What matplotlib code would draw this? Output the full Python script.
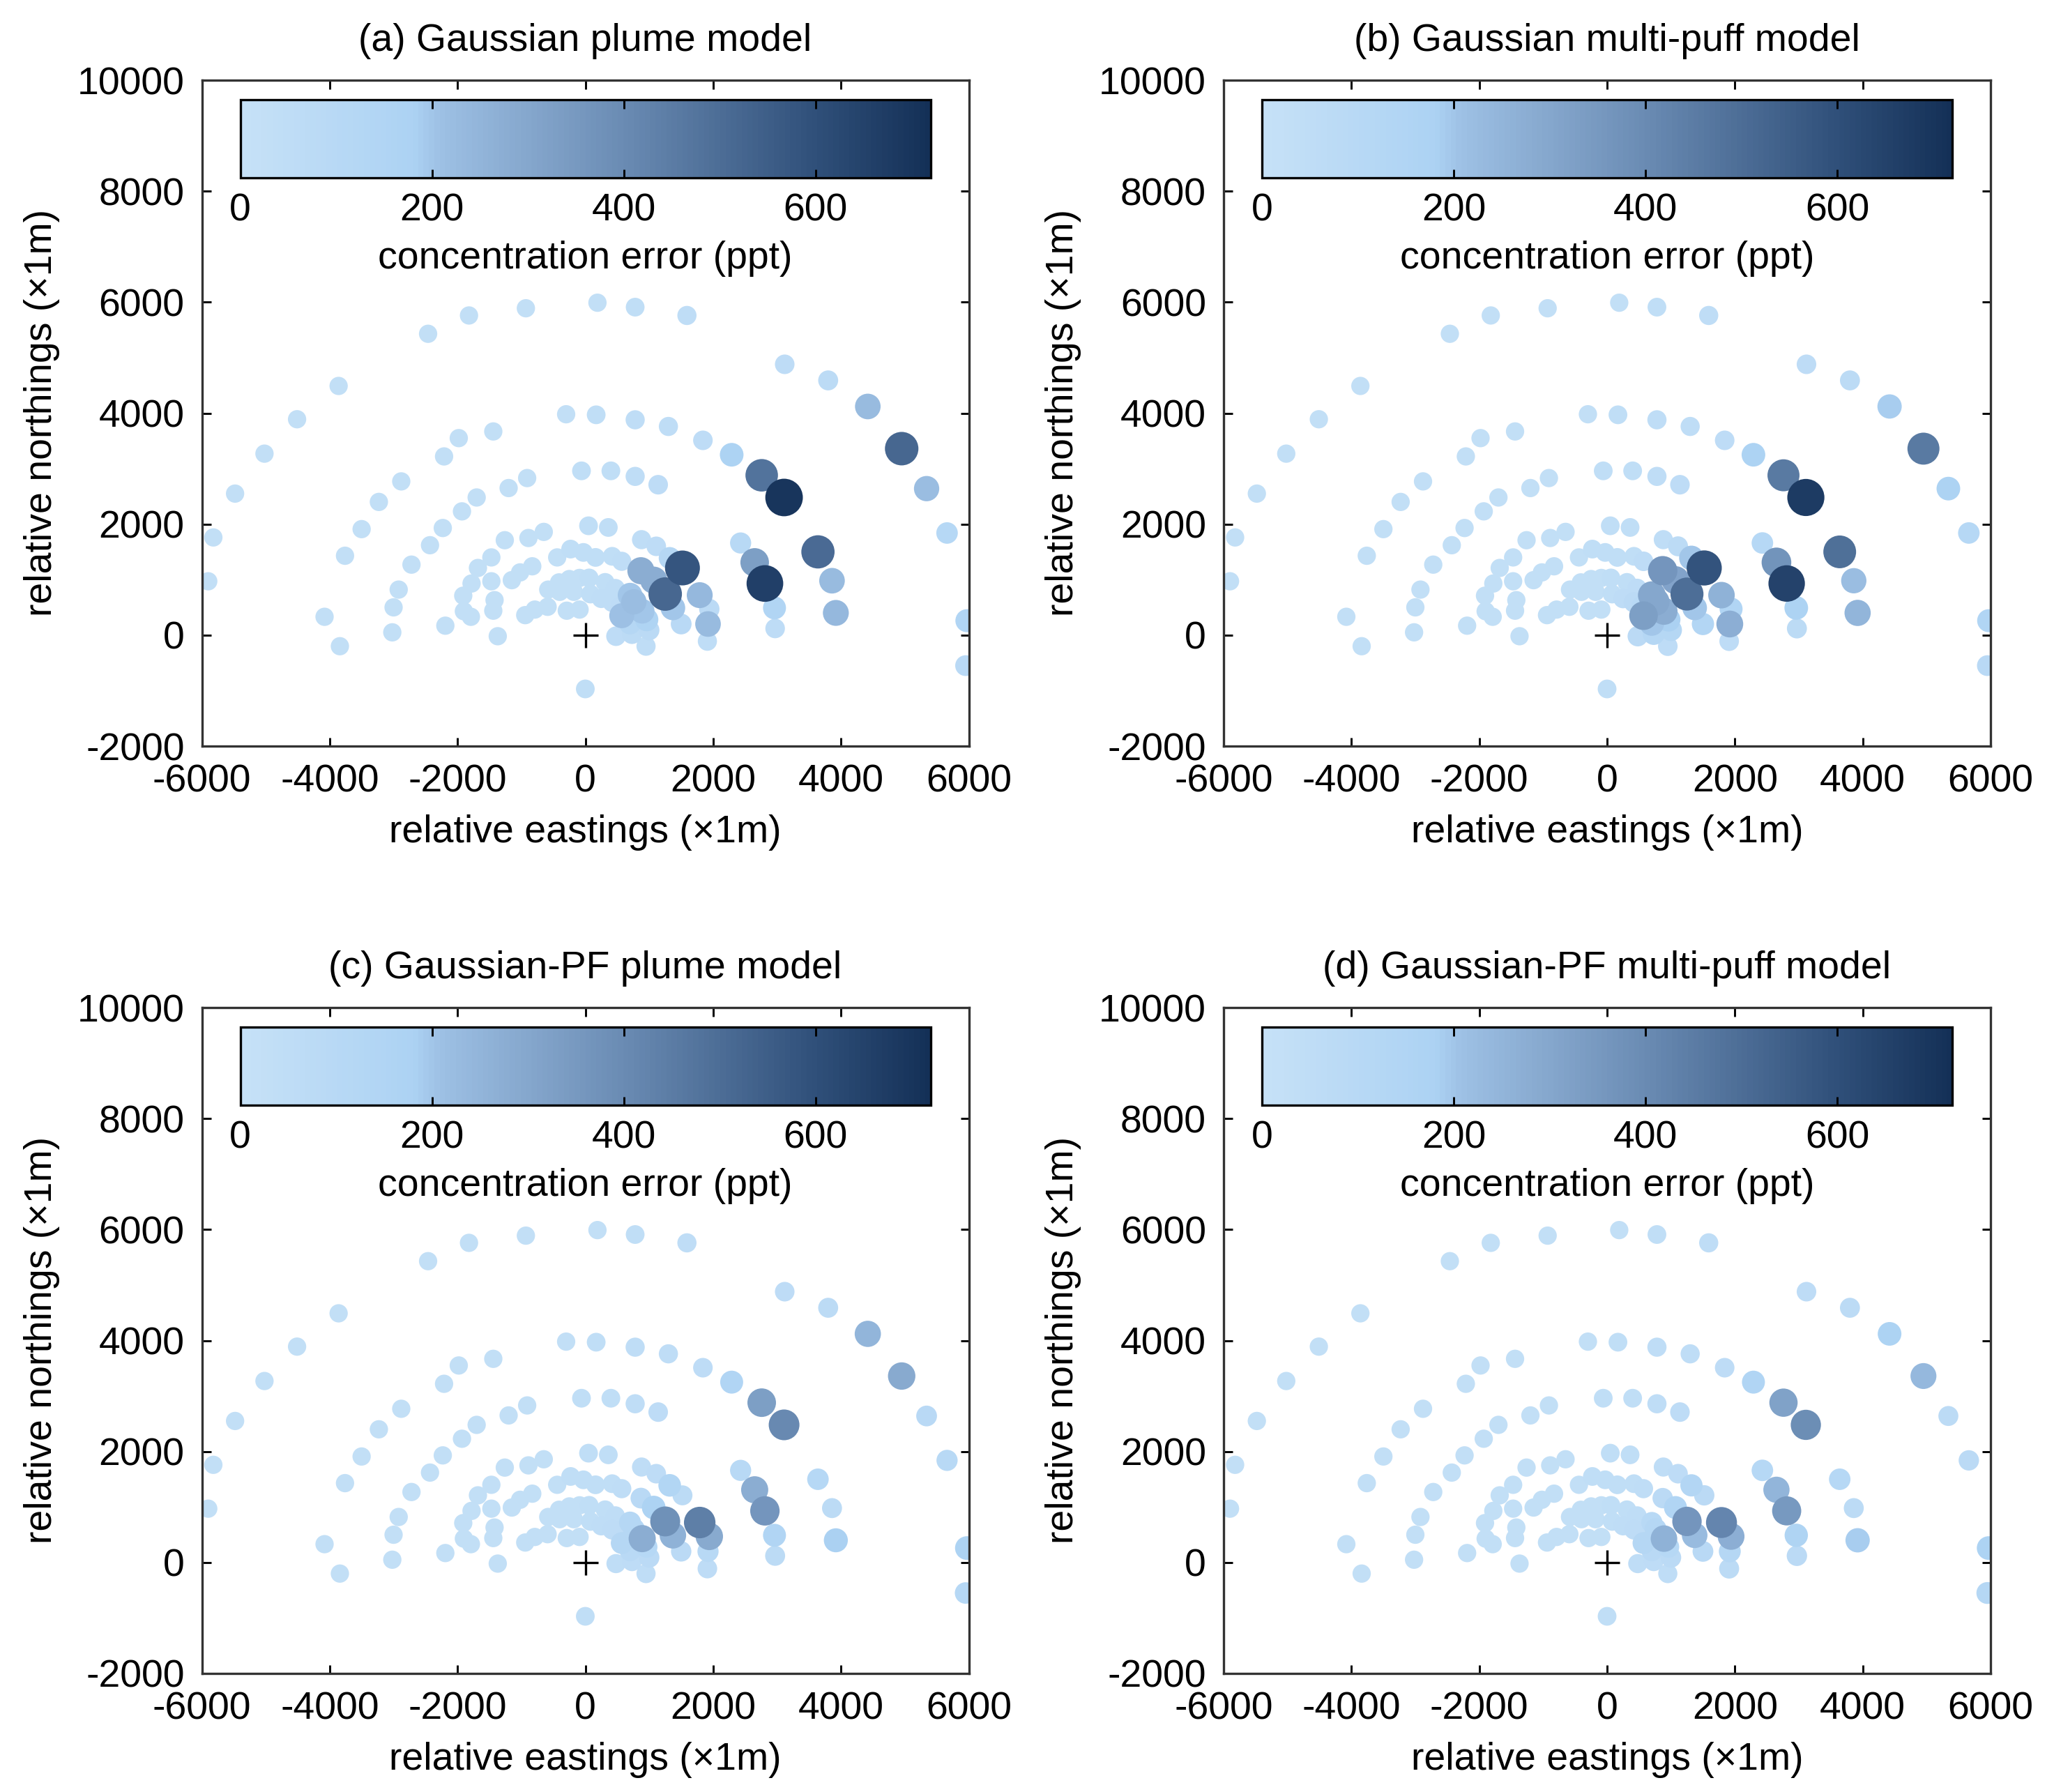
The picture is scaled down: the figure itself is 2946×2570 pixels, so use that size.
import numpy as np
import matplotlib.pyplot as plt
from matplotlib.colors import LinearSegmentedColormap

plt.rcParams['font.family'] = ['Liberation Sans', 'DejaVu Sans']
plt.rcParams['axes.unicode_minus'] = False

### receptor positions (m), ring by ring ###

# ring ~6000 m
x6 = [-5900, -5820, -5480, -5020, -4510, -3860, -2460, -1820, -930, 190,
      780, 1590, 3120, 3800, 4420, 4950, 5340, 5660, 5970, 5950]
y6 = [970, 1760, 2550, 3270, 3890, 4490, 5430, 5760, 5890, 5990,
      5910, 5760, 4880, 4590, 4120, 3360, 2640, 1840, 260, -550]
# ring ~4000 m
x4 = [-4080, -3840, -3760, -3500, -3230, -2880, -2210, -1980, -1440, -300,
      170, 780, 1300, 1840, 2290, 2760, 3110, 3640, 3860, 3920]
y4 = [330, -200, 1430, 1910, 2400, 2770, 3220, 3550, 3670, 3980,
      3970, 3880, 3760, 3510, 3250, 2880, 2480, 1500, 980, 400]
# ring ~3000 m
x3 = [-3020, -3000, -2920, -2720, -2430, -2230, -1930, -1700, -1200, -910,
      -60, 400, 780, 1140, 2430, 2650, 2810, 2960, 2970]
y3 = [50, 500, 820, 1270, 1620, 1930, 2230, 2480, 2650, 2830,
      2960, 2960, 2860, 2710, 1660, 1310, 930, 490, 120]
# ring ~2000 m
x2 = [-2190, -1900, -1790, -1910, -1780, -1680, -1470, -1260, -890, -650,
      50, 360, 880, 1110, 1320, 1520, 1790, 1940, 1920, 1910]
y2 = [170, 430, 330, 710, 930, 1210, 1400, 1710, 1750, 1860,
      1970, 1940, 1720, 1600, 1390, 1210, 720, 470, 200, -110]
# ring ~1500 m
x15 = [-1370, -1440, -1420, -1470, -1150, -1020, -830, -440, -230, -30,
       160, 420, 570, 870, 1070, 1250, 1370, 1500, 950]
y15 = [-20, 440, 630, 970, 990, 1130, 1240, 1400, 1550, 1490,
       1400, 1420, 1330, 1160, 990, 740, 490, 200, -200]
# inner rings
xin = [-940, -790, -590, -580, -410, -250, -90, 60, 310, 470,
       -290, -90, -400, -180, 80, 250, 420, 550, 700, 760,
       890, 570, 700, 960, 1000, 480, 730, 0]
yin = [360, 460, 510, 820, 950, 1010, 1030, 1030, 950, 840,
       440, 460, 780, 780, 740, 660, 590, 520, 720, 600,
       430, 350, 210, 280, 90, -20, 20, -970]

### concentration error (ppt) per panel, same order ###

err_a = ([30]*10 + [40, 50, 60, 70, 230, 520, 220, 110, 150, 90] +
         [30]*10 + [40, 50, 50, 60, 170, 480, 700, 510, 230, 240] +
         [30]*10 + [40, 40, 50, 60, 100, 330, 660, 150, 60] +
         [30]*10 + [40, 40, 50, 60, 120, 580, 240, 80, 230, 50] +
         [30]*8 + [40, 40, 40, 40, 50, 280, 280, 520, 200, 90, 50] +
         [30, 30, 30, 30, 30, 30, 30, 40, 40, 50, 30, 30, 30, 30, 40, 50,
          50, 60, 200, 220, 200, 210, 120, 160, 80, 60, 70, 40])
err_b = ([30]*10 + [40, 50, 60, 70, 190, 460, 170, 110, 150, 90] +
         [30]*10 + [40, 50, 50, 60, 170, 460, 680, 490, 220, 250] +
         [30]*10 + [40, 40, 50, 60, 110, 370, 650, 170, 70] +
         [30]*10 + [40, 40, 50, 70, 200, 590, 260, 150, 270, 60] +
         [30]*8 + [40, 40, 40, 40, 60, 360, 310, 500, 200, 130, 60] +
         [30, 30, 30, 30, 30, 30, 30, 40, 40, 60, 30, 30, 30, 30, 40, 60,
          80, 100, 300, 300, 280, 330, 200, 180, 120, 80, 120, 40])
err_c = ([30]*10 + [40, 50, 60, 70, 250, 290, 90, 100, 170, 110] +
         [30]*10 + [40, 50, 50, 60, 150, 330, 410, 110, 70, 180] +
         [30]*10 + [40, 40, 50, 60, 100, 280, 360, 150, 70] +
         [30]*10 + [40, 40, 50, 60, 140, 70, 440, 290, 100, 60] +
         [30]*8 + [40, 40, 40, 40, 50, 90, 170, 380, 260, 80, 50] +
         [30]*7 + [40, 40, 50, 30, 30, 30, 30, 40, 50, 60, 60, 120, 120,
                   280, 120, 90, 110, 80, 50, 60, 40])
err_d = ([30]*10 + [40, 50, 60, 70, 170, 240, 70, 80, 170, 120] +
         [30]*10 + [40, 50, 50, 60, 150, 320, 390, 110, 70, 190] +
         [30]*10 + [40, 40, 50, 60, 110, 250, 350, 160, 80] +
         [30]*10 + [40, 40, 50, 60, 130, 80, 420, 270, 120, 70] +
         [30]*8 + [40, 40, 40, 40, 50, 80, 150, 360, 230, 90, 50] +
         [30]*7 + [40, 40, 50, 30, 30, 30, 30, 40, 50, 60, 60, 100, 120,
                   260, 120, 90, 110, 80, 50, 60, 40])

titulos = ["(a) Gaussian plume model", "(b) Gaussian multi-puff model",
           "(c) Gaussian-PF plume model", "(d) Gaussian-PF multi-puff model"]
errores = [err_a, err_b, err_c, err_d]

cbar_ticks = [0, 200, 400, 600]
vmax = 720

x = np.array(x6 + x4 + x3 + x2 + x15 + xin)
y = np.array(y6 + y4 + y3 + y2 + y15 + yin)

# colour scale light blue -> navy
anclas = [(0.0, (198, 225, 247)), (0.25, (172, 210, 243)), (0.285, (158, 193, 229)),
          (0.556, (106, 139, 179)), (0.833, (48, 80, 122)), (1.0, (20, 48, 87))]
mapa = LinearSegmentedColormap.from_list(
    "errblues", [(p, tuple(c/255 for c in rgb)) for p, rgb in anclas], N=128)

W, H = 2946, 2570
fig = plt.figure(figsize=(W/300, H/300), dpi=300)

izq = [289.5, 1755, 289.5, 1755]
arr = [115, 115, 1445, 1445]
aw, ah = 1100, 955
fs = 13.3

for k in range(4):
    ax = fig.add_axes([izq[k]/W, 1 - (arr[k] + ah)/H, aw/W, ah/H])
    e = np.array(errores[k], dtype=float)
    orden = np.argsort(e, kind="stable")
    tam = 34 + 0.19*e
    sc = ax.scatter(x[orden], y[orden], c=e[orden], s=tam[orden], cmap=mapa,
                    vmin=0, vmax=vmax, edgecolors="none", zorder=2)
    ax.plot(0, 0, marker="+", color="k", markersize=8.5, mew=0.8, zorder=3)

    ax.set_xlim(-6000, 6000)
    ax.set_ylim(-2000, 10000)
    ax.set_xticks(range(-6000, 6001, 2000))
    ax.set_yticks(range(-2000, 10001, 2000))
    ax.tick_params(direction="in", length=3, width=0.7, labelsize=fs,
                   top=True, right=True, pad=6)
    for s in ax.spines.values():
        s.set_linewidth(0.8)
        s.set_color("#333333")
    ax.set_xlabel("relative eastings (\u00d71m)", fontsize=fs, labelpad=5)
    ax.set_ylabel("relative northings (\u00d71m)", fontsize=fs, labelpad=6)
    ax.set_title(titulos[k], fontsize=fs, pad=10)

    cax = ax.inset_axes([0.05, 0.853, 0.90, 0.118])
    cb = fig.colorbar(sc, cax=cax, orientation="horizontal", ticks=cbar_ticks)
    cb.outline.set_linewidth(0.8)
    cax.xaxis.set_ticks_position("both")
    cax.tick_params(direction="in", length=3, width=0.7, labelsize=fs,
                    labeltop=False, labelbottom=True, pad=5)
    cb.set_label("concentration error (ppt)", fontsize=fs, labelpad=4)

plt.savefig("out.png", dpi=300)
